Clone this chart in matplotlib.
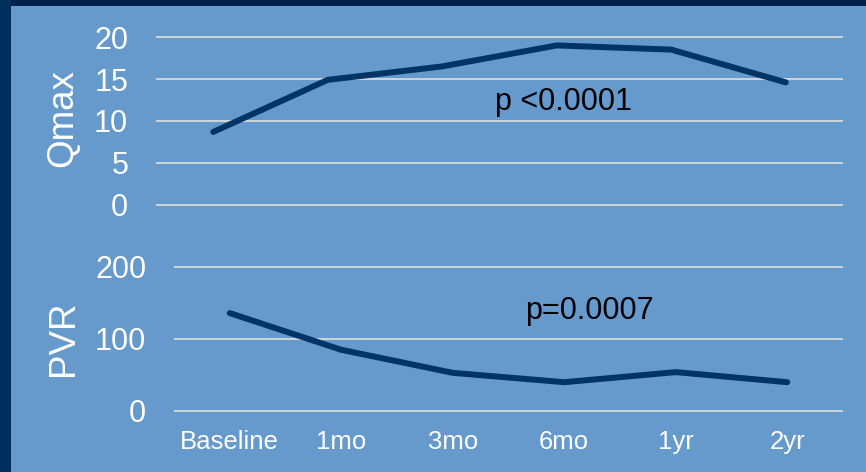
import matplotlib
matplotlib.use("Agg")
import matplotlib.pyplot as plt
from matplotlib.patches import Rectangle

plt.rcParams["font.family"] = ["Liberation Sans", "DejaVu Sans"]

# data
timepoints = ["Baseline", "1mo", "3mo", "6mo", "1yr", "2yr"]
qmax = [8.7, 14.9, 16.5, 19.0, 18.5, 14.6]
pvr = [136, 85, 53, 40, 54, 40]
qmax_ticks = [0, 5, 10, 15, 20]
pvr_ticks = [0, 100, 200]
qmax_p = "p <0.0001"
pvr_p = "p=0.0007"

BG = "#6699cc"
LINE = "#003366"
GRID = "#d9d9d9"

W, H = 866, 472
fig = plt.figure(figsize=(W / 100, H / 100), dpi=100, facecolor=BG)

# dark frame on the top and left edges
fig.patches.append(Rectangle((0, 1 - 6 / H), 1, 6 / H, transform=fig.transFigure,
                             facecolor="#00214a", edgecolor="none", zorder=0))
fig.patches.append(Rectangle((0, 0), 11 / W, 1, transform=fig.transFigure,
                             facecolor="#002f5e", edgecolor="none", zorder=0))


def px_axes(left, right, top, bottom):
    return fig.add_axes([left / W, 1 - bottom / H, (right - left) / W, (bottom - top) / H])


def style(ax, ticks, lim):
    ax.set_facecolor("none")
    for s in ax.spines.values():
        s.set_visible(False)
    ax.set_xlim(-0.5, len(timepoints) - 0.5)
    ax.set_ylim(*lim)
    ax.set_yticks(ticks)
    ax.set_yticklabels([str(t) for t in ticks], color="white", fontsize=22)
    ax.tick_params(axis="y", length=0, pad=20)
    ax.grid(axis="y", color=GRID, linewidth=1.3)
    ax.set_axisbelow(True)


x = list(range(len(timepoints)))

# top: Qmax
ax1 = px_axes(156, 843, 34.5, 207.5)
style(ax1, qmax_ticks, (-0.3, 20.3))
ax1.plot(x, qmax, color=LINE, linewidth=4.3, solid_capstyle="round", solid_joinstyle="round")
ax1.set_xticks([])
ax1.text(2.46, 12.3, qmax_p, fontsize=22, color="black", ha="left", va="center")

# bottom: PVR
ax2 = px_axes(174, 843, 263.4, 414.6)
style(ax2, pvr_ticks, (-5, 205))
ax2.plot(x, pvr, color=LINE, linewidth=4.3, solid_capstyle="round", solid_joinstyle="round")
ax2.set_xticks(x)
ax2.set_xticklabels(timepoints, color="white", fontsize=18.5)
ax2.tick_params(axis="x", length=0, pad=11)
ax2.text(2.65, 139, pvr_p, fontsize=22, color="black", ha="left", va="center")

fig.text(63 / W, 1 - 118 / H, "Qmax", rotation=90, color="white", fontsize=26.5,
         ha="center", va="center")
fig.text(63 / W, 1 - 338 / H, "PVR", rotation=90, color="white", fontsize=26.5,
         ha="center", va="center")

fig.savefig("out.png", dpi=100, facecolor=BG)
